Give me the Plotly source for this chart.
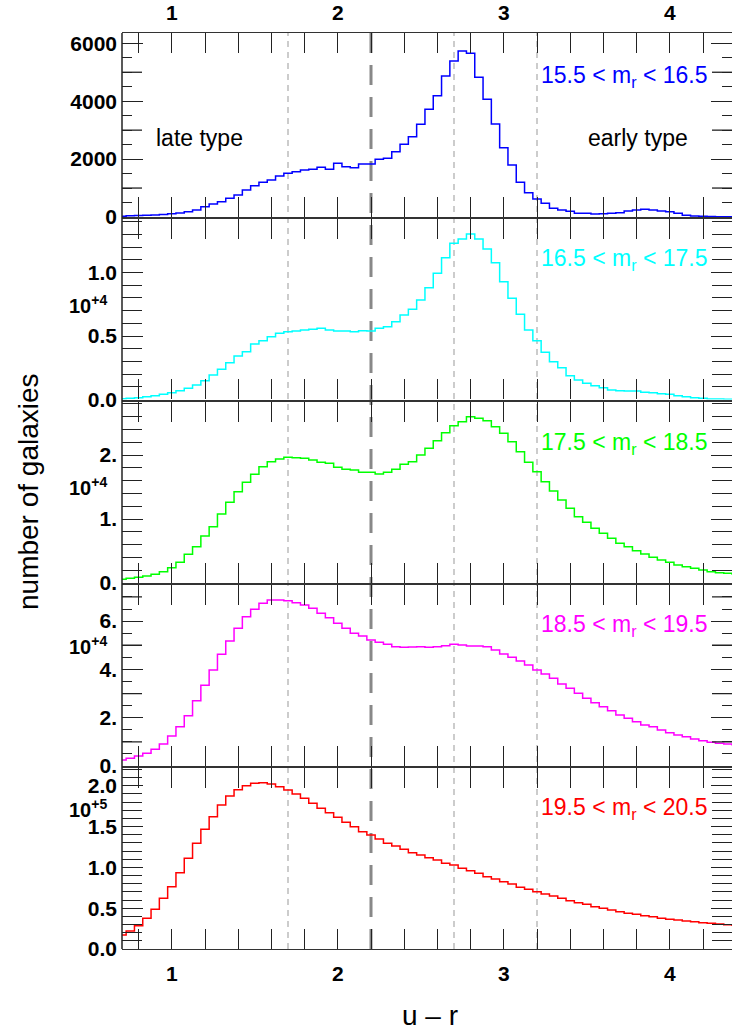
import plotly.graph_objects as go

# ---------------- data ----------------
u_r = [0.70, 0.75, 0.80, 0.85, 0.90, 0.95, 1.00, 1.05, 1.10, 1.15,
       1.20, 1.25, 1.30, 1.35, 1.40, 1.45, 1.50, 1.55, 1.60, 1.65,
       1.70, 1.75, 1.80, 1.85, 1.90, 1.95, 2.00, 2.05, 2.10, 2.15,
       2.20, 2.25, 2.30, 2.35, 2.40, 2.45, 2.50, 2.55, 2.60, 2.65,
       2.70, 2.75, 2.80, 2.85, 2.90, 2.95, 3.00, 3.05, 3.10, 3.15,
       3.20, 3.25, 3.30, 3.35, 3.40, 3.45, 3.50, 3.55, 3.60, 3.65,
       3.70, 3.75, 3.80, 3.85, 3.90, 3.95, 4.00, 4.05, 4.10, 4.15,
       4.20, 4.25, 4.30, 4.35, 4.40]

n_155_165 = [30, 40, 50, 60, 70, 90, 110, 140, 180, 240,
             355, 445, 530, 645, 760, 933, 1082, 1197, 1278, 1416,
             1508, 1566, 1623, 1646, 1715, 1646, 1853, 1738, 1704, 1830,
             1830, 1993, 2027, 2256, 2510, 2774, 3201, 3719, 4191, 4870,
             5388, 5734, 5654, 4825, 4065, 3212, 2394, 1796, 1198, 840,
             622, 472, 300, 242, 197, 128, 128, 104, 115, 128,
             150, 207, 242, 265, 242, 207, 184, 128, 58, 35,
             25, 15, 10, 10, 10]

n_165_175 = [65, 98, 144, 223, 302, 407, 538, 696, 880, 1142,
             1483, 1929, 2375, 2900, 3425, 3766, 4370, 4632, 4947, 5210,
             5341, 5394, 5472, 5525, 5604, 5472, 5394, 5394, 5341, 5420,
             5394, 5604, 5735, 6128, 6653, 7100, 7835, 8806, 9935, 11168,
             12297, 12638, 13031, 12638, 11850, 10774, 9278, 7966, 6706, 5472,
             4632, 3714, 2979, 2506, 1876, 1535, 1273, 1089, 932, 748,
             696, 669, 669, 564, 538, 459, 407, 302, 223, 144,
             92, 40, 30, 20, 15]

n_175_185 = [573, 729, 885, 1094, 1354, 1771, 2396, 3229, 4479, 5677,
             7344, 8802, 10781, 12604, 14271, 15729, 16979, 18177, 18958, 19375,
             19635, 19583, 19479, 19219, 18854, 18698, 18073, 17760, 17656, 17292,
             17292, 17031, 17292, 17760, 18542, 18958, 20000, 21042, 22240, 23490,
             24583, 25208, 25990, 25729, 25365, 24427, 23385, 22083, 20521, 18854,
             17396, 15833, 14375, 12969, 11667, 10365, 9479, 8542, 7760, 6979,
             6198, 5677, 5052, 4531, 4010, 3594, 3229, 2813, 2552, 2292,
             2031, 1771, 1615, 1510, 1400]

n_185_195 = [2485, 3174, 4141, 5245, 6902, 9110, 12423, 16288, 20833, 27055,
             33403, 39754, 46254, 51763, 57020, 61840, 64880, 67370, 68741, 68741,
             68450, 67620, 66670, 65300, 63230, 61410, 59090, 57020, 54950, 53830,
             52180, 51220, 50390, 49400, 49150, 49280, 49400, 49150, 49400, 49820,
             50390, 50100, 49690, 49690, 49400, 48040, 46380, 45000, 43500, 41820,
             39750, 38100, 36300, 33960, 32170, 30100, 28030, 26220, 24560, 22900,
             21120, 19740, 18360, 16980, 16290, 14910, 13810, 12840, 12150, 11180,
             10490, 9800, 9390, 9110, 8800]

n_195_205 = [17160, 22060, 28590, 37620, 48650, 62130, 76390, 93510, 111100, 129500,
             146700, 162100, 176500, 187500, 195200, 200100, 203000, 203800, 202200, 198900,
             194900, 189900, 184700, 178500, 172400, 167000, 161400, 155300, 149900, 143700,
             139700, 134800, 129500, 126200, 122200, 118000, 115200, 111900, 109100, 105000,
             102900, 98900, 95960, 92770, 88600, 85790, 82470, 79660, 75570, 73160,
             70220, 67400, 64950, 62130, 59190, 56740, 54780, 51840, 49880, 47790,
             45710, 43750, 42530, 40810, 39580, 37620, 36400, 35540, 34310, 33460,
             32230, 31490, 30640, 29800, 29000]

panel_labels = ["15.5 &lt; m<sub>r</sub> &lt; 16.5", "16.5 &lt; m<sub>r</sub> &lt; 17.5",
                "17.5 &lt; m<sub>r</sub> &lt; 18.5", "18.5 &lt; m<sub>r</sub> &lt; 19.5",
                "19.5 &lt; m<sub>r</sub> &lt; 20.5"]
colors = ["#0000ff", "#00ffff", "#00ff00", "#ff00ff", "#ff0000"]
series = [n_155_165, n_165_175, n_175_185, n_185_195, n_195_205]

x_tick_vals = [1, 2, 3, 4]
x_tick_text = ["1", "2", "3", "4"]
x_minor_step = 0.2

y_tick_vals = [
    [0, 2000, 4000, 6000],
    [0, 5000, 10000],
    [0, 10000, 20000],
    [0, 20000, 40000, 60000],
    [0, 50000, 100000, 150000, 200000],
]
y_tick_text = [
    ["0", "2000", "4000", "6000"],
    ["0.0", "0.5", "1.0"],
    ["0.", "1.", "2."],
    ["0.", "2.", "4.", "6."],
    ["0.0", "0.5", "1.0", "1.5", "2.0"],
]
y_minor_step = [500, 1000, 2000, 5000, 10000]
# intermediate (long, unlabelled) ticks in panels 1 and 4
y_mid_ticks = [[1000, 3000, 5000], [], [], [10000, 30000, 50000, 70000], []]
exponents = ["", "10<sup>+4</sup>", "10<sup>+4</sup>", "10<sup>+4</sup>", "10<sup>+5</sup>"]
type_cuts = [1.7, 2.7, 3.2]
main_cut = 2.2

# ---------------- layout constants ----------------
W, H = 732, 1032
L, R, T, B = 122, 0, 33, 83
PH = H - T - B
PW = W - L - R
panels_px = [(33, 217), (218.5, 399.5), (401.5, 583), (584.5, 766), (767.5, 949)]
y_tops = [6356, 14252, 28359, 75160, 222430]
minor_len = [10, 20, 20, 10, 20]
exp_py = [0, 304, 486, 645, 808]
label_py = [76, 259, 443, 625, 808]
FONT = "Liberation Sans, Arial, Helvetica, sans-serif"
TICKFONT = dict(family=FONT, size=21, color="black", weight="bold")
TICKC = "#222"


def ypap(py):
    return (H - B - py) / PH


def xpap(px):
    return (px - L) / PW


fig = go.Figure()
layout = dict(width=W, height=H, margin=dict(l=L, r=R, t=T, b=B, autoexpand=False),
              paper_bgcolor="white", plot_bgcolor="white", showlegend=False,
              font=dict(family=FONT, color="black"))
annotations = []
shapes = []

for i in range(5):
    k = "" if i == 0 else str(i + 1)
    fig.add_trace(go.Scatter(x=u_r, y=series[i], mode="lines",
                             line=dict(color=colors[i], width=1.5, shape="hvh"),
                             xaxis="x" + k, yaxis="y" + k, hoverinfo="skip"))
    top, bot = panels_px[i]
    xa = dict(domain=[0, 1], range=[0.7, 0.7 + PW / 166.0], anchor="y" + k,
              tickmode="array", tickvals=x_tick_vals, ticktext=x_tick_text,
              ticks="inside", ticklen=20, tickwidth=1.3, tickcolor=TICKC,
              minor=dict(ticks="inside", ticklen=20, tick0=0, dtick=x_minor_step,
                         tickwidth=1.3, tickcolor=TICKC, showgrid=False),
              showline=True, linecolor="#333", linewidth=1.3, mirror="ticks",
              showgrid=False, zeroline=False,
              showticklabels=(i == 0 or i == 4),
              side="top" if i == 0 else "bottom",
              ticklabelstandoff=3 if i == 0 else 6, tickfont=TICKFONT)
    if i > 0:
        xa["matches"] = "x"
    ya = dict(domain=[ypap(bot), ypap(top)], range=[0, y_tops[i]], anchor="x" + k,
              tickmode="array", tickvals=y_tick_vals[i], ticktext=y_tick_text[i],
              ticks="inside", ticklen=21, tickwidth=1.3, tickcolor=TICKC,
              minor=dict(ticks="inside", ticklen=minor_len[i], tick0=0, dtick=y_minor_step[i],
                         tickwidth=1.3, tickcolor=TICKC, showgrid=False),
              showline=False, mirror="ticks", showgrid=False, zeroline=False,
              ticklabelstandoff=4, tickfont=TICKFONT)
    layout["xaxis" + k] = xa
    layout["yaxis" + k] = ya

    for v in y_mid_ticks[i]:
        shapes.append(dict(type="line", xref="x" + k + " domain", yref="y" + k,
                           x0=0, x1=20 / PW, y0=v, y1=v, line=dict(color=TICKC, width=1.3)))
        shapes.append(dict(type="line", xref="x" + k + " domain", yref="y" + k,
                           x0=1 - 20 / PW, x1=1, y0=v, y1=v, line=dict(color=TICKC, width=1.3)))

    if exponents[i]:
        annotations.append(dict(text="<b>" + exponents[i] + "</b>", xref="paper", yref="paper",
                                x=xpap(109), y=ypap(exp_py[i]), xanchor="right", yanchor="middle",
                                showarrow=False, font=dict(family=FONT, size=20, color="black")))
    annotations.append(dict(text=panel_labels[i], xref="paper", yref="paper",
                            x=xpap(709), y=ypap(label_py[i]), xanchor="right", yanchor="middle",
                            showarrow=False, font=dict(family=FONT, size=23, color=colors[i])))

for c in type_cuts:
    shapes.append(dict(type="line", xref="x5", yref="paper", x0=c, x1=c, y0=0, y1=1,
                       line=dict(color="#999999", width=1, dash="6px,5px"), layer="below"))
shapes.append(dict(type="line", xref="x5", yref="paper", x0=main_cut, x1=main_cut, y0=0, y1=1,
                   line=dict(color="#888888", width=3, dash="20px,12px"), layer="below"))
shapes.append(dict(type="line", xref="paper", yref="paper", x0=0, x1=0, y0=0, y1=1,
                   line=dict(color="#222", width=1.5)))

annotations.append(dict(text="late type", xref="paper", yref="paper", x=xpap(199), y=ypap(138),
                        xanchor="center", yanchor="middle", showarrow=False,
                        font=dict(family=FONT, size=23, color="black")))
annotations.append(dict(text="early type", xref="paper", yref="paper", x=xpap(638), y=ypap(138),
                        xanchor="center", yanchor="middle", showarrow=False,
                        font=dict(family=FONT, size=23, color="black")))
annotations.append(dict(text="number of galaxies", xref="paper", yref="paper", x=xpap(28),
                        y=ypap(492), xanchor="center", yanchor="middle", textangle=-90,
                        showarrow=False, font=dict(family=FONT, size=28, color="black")))
annotations.append(dict(text="u – r", xref="paper", yref="paper", x=xpap(430), y=ypap(1015),
                        xanchor="center", yanchor="middle", showarrow=False,
                        font=dict(family=FONT, size=28, color="black")))

layout["annotations"] = annotations
layout["shapes"] = shapes
fig.update_layout(**layout)
fig.write_html("out.html", config={"displayModeBar": False},
               post_script="document.body.style.margin='0';document.body.style.padding='0';")
